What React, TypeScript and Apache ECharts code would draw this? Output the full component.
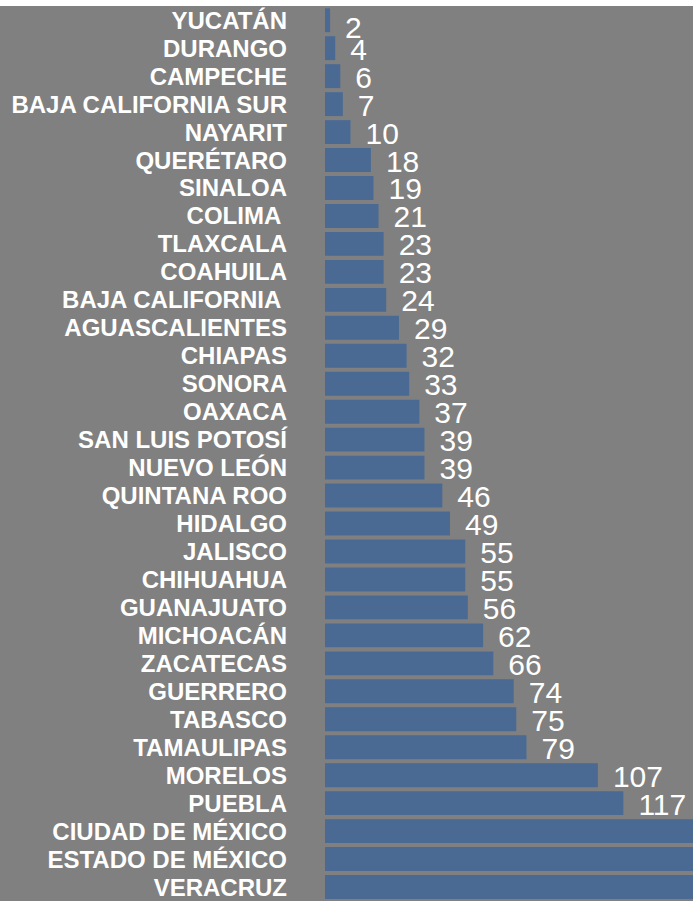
import React, { useEffect, useRef } from "react";
import * as echarts from "echarts";

const states = [
  "YUCATÁN", "DURANGO", "CAMPECHE", "BAJA CALIFORNIA SUR", "NAYARIT", "QUERÉTARO",
  "SINALOA", "COLIMA ", "TLAXCALA", "COAHUILA", "BAJA CALIFORNIA ", "AGUASCALIENTES",
  "CHIAPAS", "SONORA", "OAXACA", "SAN LUIS POTOSÍ", "NUEVO LEÓN", "QUINTANA ROO",
  "HIDALGO", "JALISCO", "CHIHUAHUA", "GUANAJUATO", "MICHOACÁN", "ZACATECAS",
  "GUERRERO", "TABASCO", "TAMAULIPAS", "MORELOS", "PUEBLA", "CIUDAD DE MÉXICO",
  "ESTADO DE MÉXICO", "VERACRUZ",
];

const counts = [
  2, 4, 6, 7, 10, 18, 19, 21, 23, 23, 24, 29, 32, 33, 37, 39, 39, 46, 49, 55, 55, 56,
  62, 66, 74, 75, 79, 107, 117, 155, 168, 180,
];

const X_MAX = 144.3;

export default function App() {
  const ref = useRef<HTMLDivElement>(null);

  useEffect(() => {
    if (!ref.current) return;
    const chart = echarts.init(ref.current, undefined, { renderer: "svg" });
    const data = counts.map((v, i) => {
      const item: any = { value: v };
      if (v > X_MAX) item.label = { show: false };
      if (i === 0) item.label = { offset: [0, 7] };
      return item;
    });
    chart.setOption({
      animation: false,
      backgroundColor: "#ffffff",
      graphic: [
        {
          type: "rect",
          z: -10,
          silent: true,
          shape: { x: 0, y: 6, width: 693, height: 895 },
          style: { fill: "#808080" },
        },
      ],
      grid: { left: 325, right: 0, top: 6.25, height: 899, containLabel: false },
      xAxis: {
        type: "value",
        min: 0,
        max: X_MAX,
        show: false,
        splitLine: { show: false },
      },
      yAxis: {
        type: "category",
        inverse: true,
        data: states,
        axisLine: { show: false },
        axisTick: { show: false },
        splitLine: { show: false },
        axisLabel: {
          interval: 0,
          margin: 38,
          color: "#ffffff",
          fontWeight: "bold",
          fontSize: 24,
          lineHeight: 22,
          fontFamily: "Liberation Sans, Arial, sans-serif",
        },
      },
      series: [
        {
          type: "bar",
          data,
          barCategoryGap: "14.5%",
          clip: true,
          itemStyle: { color: "#4a6a93" },
          label: {
            show: true,
            position: "right",
            distance: 15,
            offset: [0, 1],
            color: "#ffffff",
            fontSize: 30,
            lineHeight: 24,
            fontFamily: "Liberation Sans, Arial, sans-serif",
          },
        },
      ],
    });
    return () => chart.dispose();
  }, []);

  return (
    <div
      ref={ref}
      style={{ position: "fixed", left: 0, top: 0, width: 693, height: 901 }}
    />
  );
}
